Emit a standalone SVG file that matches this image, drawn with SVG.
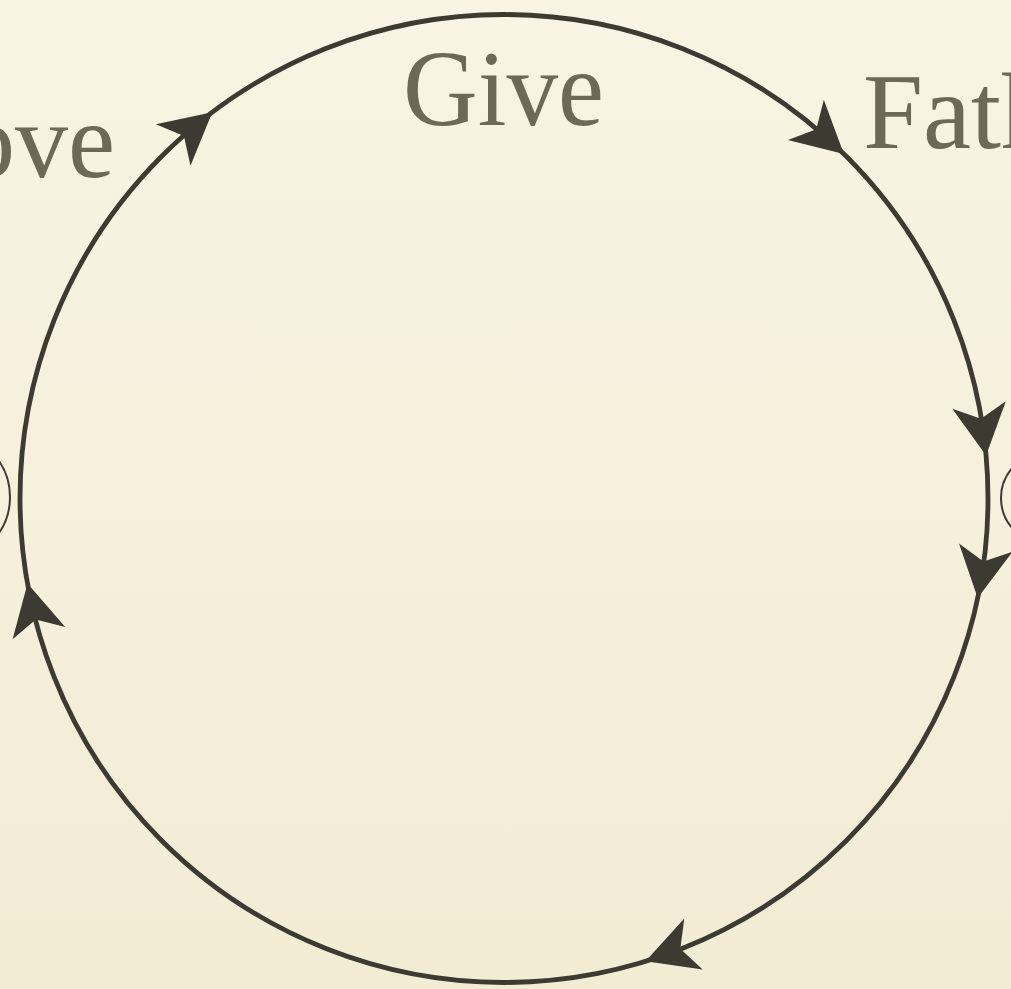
<svg xmlns="http://www.w3.org/2000/svg" xmlns:xlink="http://www.w3.org/1999/xlink" width="1011" height="989" viewBox="0 0 1011 989">
  <style>
    .ring { fill: none; stroke: #3d3a31; stroke-width: 4.8; }
    .node { fill: none; stroke: #3d3a31; stroke-width: 2; }
    .head { fill: #3d3a31; stroke: none; }
    .lbl { font-family: "Liberation Serif", "DejaVu Serif", serif; font-size: 108px; fill: #6e6858; }
  </style>
  <defs>
    <linearGradient id="bg" x1="0" y1="0" x2="0" y2="1">
      <stop offset="0" stop-color="#f9f4e3"/>
      <stop offset="1" stop-color="#f2ecd5"/>
    </linearGradient>
    <path id="ah" class="head" d="M0,0 L-51,-27 L-37,0 L-51,27 Z"/>
  </defs>
  <rect x="0" y="0" width="1011" height="989" fill="url(#bg)"/>

  <g id="node-left">
    <circle class="node" cx="-54" cy="497" r="64"/>
    <text class="lbl" x="-38" y="177" textLength="153" lengthAdjust="spacingAndGlyphs">ove</text>
  </g>
  <g id="node-top">
    <text class="lbl" x="403" y="125" textLength="201" lengthAdjust="spacingAndGlyphs">Give</text>
  </g>
  <g id="node-right">
    <circle class="node" cx="1047" cy="498" r="46"/>
    <text class="lbl" x="863" y="148">Fath</text>
  </g>

  <g id="connectors">
    <circle class="ring" cx="504" cy="498.5" r="484"/>
    <use xlink:href="#ah" href="#ah" transform="translate(212.3,112.3) rotate(-39.9)"/>
    <use xlink:href="#ah" href="#ah" transform="translate(843.9,153.9) rotate(41.75)"/>
    <use xlink:href="#ah" href="#ah" transform="translate(986.1,455.5) rotate(82.05)"/>
    <use xlink:href="#ah" href="#ah" transform="translate(977.7,598) rotate(99)"/>
    <use xlink:href="#ah" href="#ah" transform="translate(645.5,961.3) rotate(160.15)"/>
    <use xlink:href="#ah" href="#ah" transform="translate(27.5,583.4) rotate(257.05)"/>
  </g>
</svg>
